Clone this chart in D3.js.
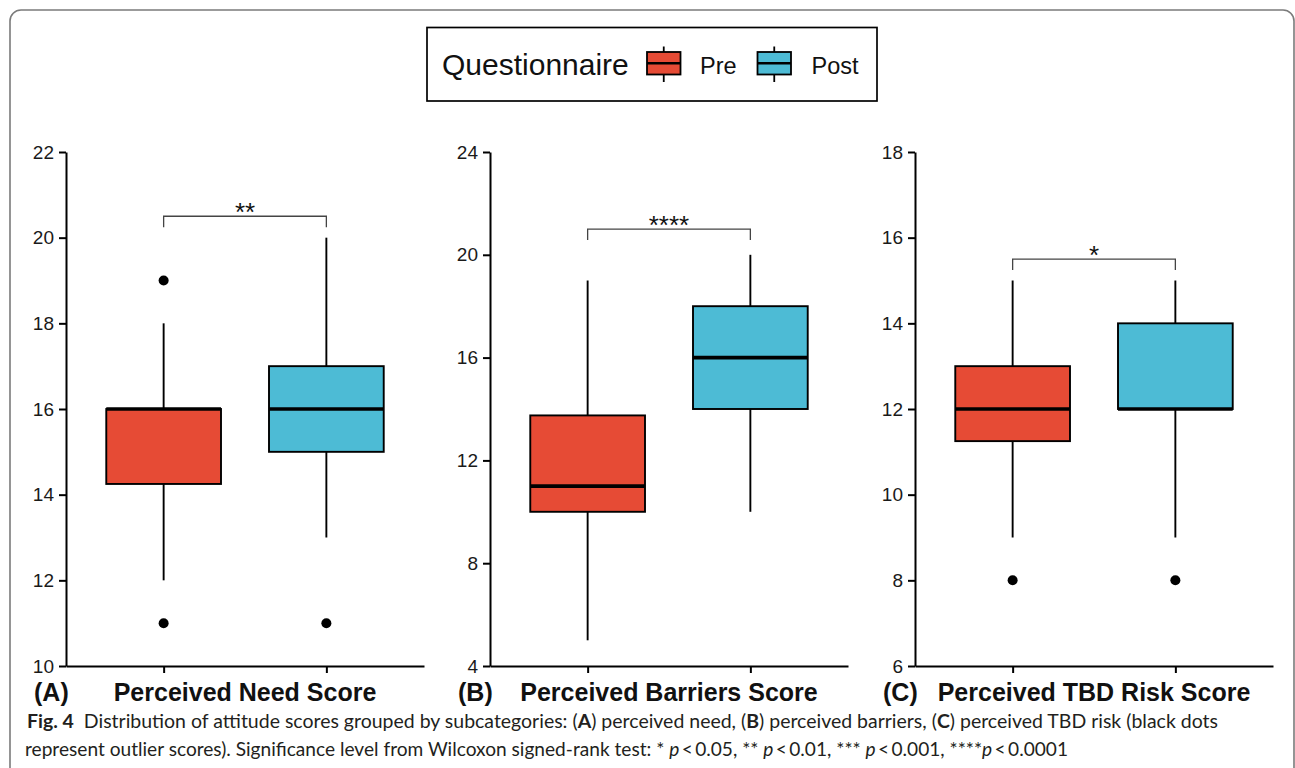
<!DOCTYPE html>
<html>
<head>
<meta charset="utf-8">
<script src="https://cdn.jsdelivr.net/npm/d3@7"></script>
<style>
  body { margin: 0; background: #fff; }
  svg { display: block; }
</style>
</head>
<body>
<svg id="fig" width="1295" height="768"></svg>
<script>
// ---- data ----
const groups = ["Pre", "Post"];
const groupColors = ["#E64B35", "#4DBBD5"];
const panelLetters = ["(A)", "(B)", "(C)"];
const panelTitles = ["Perceived Need Score", "Perceived Barriers Score", "Perceived TBD Risk Score"];
const yDomains = [[10, 22], [4, 24], [6, 18]];
const yTickValues = [
  [10, 12, 14, 16, 18, 20, 22],
  [4, 8, 12, 16, 20, 24],
  [6, 8, 10, 12, 14, 16, 18]
];
// five-number summaries: lower whisker, Q1, median, Q3, upper whisker
const needPre = [12, 14.25, 16, 16, 18];
const needPost = [13, 15, 16, 17, 20];
const barriersPre = [5, 10, 11, 13.75, 19];
const barriersPost = [10, 14, 16, 18, 20];
const riskPre = [9, 11.25, 12, 13, 15];
const riskPost = [9, 12, 12, 14, 15];
// outlying scores
const needOutliersPre = [19, 11];
const needOutliersPost = [11];
const barriersOutliersPre = [];
const barriersOutliersPost = [];
const riskOutliersPre = [8];
const riskOutliersPost = [8];
// Wilcoxon signed-rank significance annotations
const sigLabels = ["**", "****", "*"];
const sigHeights = [20.5, 21, 15.5];

const panelStats = [[needPre, needPost], [barriersPre, barriersPost], [riskPre, riskPost]];
const panelOutliers = [
  [needOutliersPre, needOutliersPost],
  [barriersOutliersPre, barriersOutliersPost],
  [riskOutliersPre, riskOutliersPost]
];

// ---- layout ----
const svg = d3.select("#fig");
const chartFont = "'Liberation Sans', Arial, sans-serif";
const plotLefts = [66, 490, 915];
const plotW = 358;
const plotTop = 152, plotBottom = 666;

// outer rounded frame
svg.append("rect")
  .attr("x", 10).attr("y", 10)
  .attr("width", 1284).attr("height", 820)
  .attr("rx", 11).attr("ry", 11)
  .attr("fill", "none")
  .attr("stroke", "#7b7b7b")
  .attr("stroke-width", 1.6);

// ---- panels ----
panelTitles.forEach((title, p) => {
  const x0 = plotLefts[p];
  const g = svg.append("g");

  const x = d3.scalePoint().domain(groups).range([x0, x0 + plotW]).padding(0.6);
  const y = d3.scaleLinear().domain(yDomains[p]).range([plotBottom, plotTop]);
  const boxW = x.step() * 0.705;

  // y axis
  const yAxis = g.append("g")
    .attr("transform", `translate(${x0},0)`)
    .call(d3.axisLeft(y).tickValues(yTickValues[p]).tickSize(7).tickPadding(5).tickSizeOuter(0));
  yAxis.selectAll("path, line").attr("stroke", "#000").attr("stroke-width", 2);
  yAxis.selectAll("text")
    .attr("font-family", chartFont).attr("font-size", 19).attr("fill", "#1a1a1a");

  // x axis
  const xAxis = g.append("g")
    .attr("transform", `translate(0,${plotBottom})`)
    .call(d3.axisBottom(x).tickSize(7).tickFormat("").tickSizeOuter(0));
  xAxis.selectAll("path, line").attr("stroke", "#000").attr("stroke-width", 2);

  // boxes
  groups.forEach((grp, i) => {
    const [lo, q1, med, q3, hi] = panelStats[p][i];
    const cx = x(grp);
    const wh = g.append("g").attr("stroke", "#000").attr("stroke-width", 1.9);
    wh.append("line").attr("x1", cx).attr("x2", cx).attr("y1", y(q3)).attr("y2", y(hi));
    wh.append("line").attr("x1", cx).attr("x2", cx).attr("y1", y(q1)).attr("y2", y(lo));

    g.append("rect")
      .attr("x", cx - boxW / 2).attr("y", y(q3))
      .attr("width", boxW).attr("height", y(q1) - y(q3))
      .attr("fill", groupColors[i])
      .attr("stroke", "#000").attr("stroke-width", 1.9);

    g.append("line")
      .attr("x1", cx - boxW / 2).attr("x2", cx + boxW / 2)
      .attr("y1", y(med)).attr("y2", y(med))
      .attr("stroke", "#000").attr("stroke-width", 3.6);

    g.selectAll(null).data(panelOutliers[p][i]).enter().append("circle")
      .attr("cx", cx).attr("cy", d => y(d)).attr("r", 5).attr("fill", "#000");
  });

  // significance bracket
  const by = y(sigHeights[p]);
  const tip = 11;
  const xa = x(groups[0]), xb = x(groups[1]);
  g.append("path")
    .attr("d", `M${xa},${by + tip}V${by}H${xb}V${by + tip}`)
    .attr("fill", "none").attr("stroke", "#444").attr("stroke-width", 1.3);
  g.append("text")
    .attr("x", (xa + xb) / 2).attr("y", by + 5)
    .attr("text-anchor", "middle")
    .attr("font-family", chartFont).attr("font-size", 26).attr("fill", "#111")
    .text(sigLabels[p]);

  // panel letter and title
  g.append("text")
    .attr("x", x0 - 32).attr("y", 700.5)
    .attr("font-family", chartFont).attr("font-weight", "bold").attr("font-size", 25)
    .attr("fill", "#111")
    .text(panelLetters[p]);
  g.append("text")
    .attr("x", x0 + plotW / 2).attr("y", 700.5)
    .attr("text-anchor", "middle")
    .attr("font-family", chartFont).attr("font-weight", "bold").attr("font-size", 25)
    .attr("fill", "#111")
    .text(title);
});

// ---- legend ----
const legend = svg.append("g");
legend.append("rect")
  .attr("x", 427).attr("y", 27.5).attr("width", 450).attr("height", 73.5)
  .attr("fill", "#fff").attr("stroke", "#000").attr("stroke-width", 1.7);
legend.append("text")
  .attr("x", 442).attr("y", 75)
  .attr("font-family", chartFont).attr("font-size", 30).attr("fill", "#111")
  .text("Questionnaire");
const keyX = [647, 757.5];
const keyLabelX = [700, 811.5];
groups.forEach((grp, i) => {
  const kx = keyX[i], kw = 33.5;
  legend.append("line")
    .attr("x1", kx + kw / 2).attr("x2", kx + kw / 2).attr("y1", 46.5).attr("y2", 82)
    .attr("stroke", "#000").attr("stroke-width", 1.8);
  legend.append("rect")
    .attr("x", kx).attr("y", 52).attr("width", kw).attr("height", 22.5)
    .attr("fill", groupColors[i]).attr("stroke", "#000").attr("stroke-width", 1.8);
  legend.append("line")
    .attr("x1", kx).attr("x2", kx + kw).attr("y1", 63.3).attr("y2", 63.3)
    .attr("stroke", "#000").attr("stroke-width", 2.4);
  legend.append("text")
    .attr("x", keyLabelX[i]).attr("y", 73.5)
    .attr("font-family", chartFont).attr("font-size", 23.5).attr("fill", "#111")
    .text(grp);
});

// ---- caption ----
const capFont = "Lato, 'Open Sans', sans-serif";
const captionLines = [
  {
    x: 27, y: 728, len: 1191,
    parts: [
      ["Fig. 4", "b"], ["  Distribution of attitude scores grouped by subcategories: (", ""],
      ["A", "b"], [") perceived need, (", ""], ["B", "b"], [") perceived barriers, (", ""],
      ["C", "b"], [") perceived TBD risk (black dots", ""]
    ]
  },
  {
    x: 25, y: 756, len: 1043,
    parts: [
      ["represent outlier scores). Significance level from Wilcoxon signed-rank test: * ", ""],
      ["p", "i"], ["\u2009<\u20090.05, ** ", ""], ["p", "i"], ["\u2009<\u20090.01, *** ", ""],
      ["p", "i"], ["\u2009<\u20090.001, ****", ""], ["p", "i"], ["\u2009<\u20090.0001", ""]
    ]
  }
];
captionLines.forEach(line => {
  const t = svg.append("text")
    .attr("x", line.x).attr("y", line.y)
    .attr("font-family", capFont).attr("font-size", 18.5).attr("fill", "#231f20")
    .attr("textLength", line.len).attr("lengthAdjust", "spacingAndGlyphs")
    .style("white-space", "pre");
  line.parts.forEach(([s, style]) => {
    t.append("tspan")
      .attr("font-weight", style === "b" ? "bold" : null)
      .attr("font-style", style === "i" ? "italic" : null)
      .text(s);
  });
});
</script>
</body>
</html>
